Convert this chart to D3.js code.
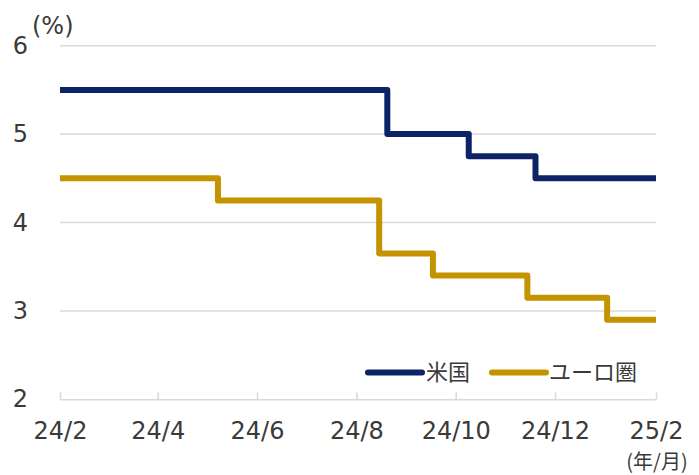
<!DOCTYPE html>
<html>
<head>
<meta charset="utf-8">
<script src="https://cdn.jsdelivr.net/npm/d3@7"></script>
<style>
  html, body { margin: 0; padding: 0; background: #fff; }
  svg { display: block; }
</style>
</head>
<body>
<svg id="chart" width="699" height="475"></svg>
<script>
// Policy rate change dates (step starts) and levels, %
const usDates   = ["2024-02-01", "2024-08-20", "2024-10-09", "2024-11-19", "2025-02-01"];
const usRates   = [5.5, 5.0, 4.75, 4.5, 4.5];
const euroDates = ["2024-02-01", "2024-05-08", "2024-08-15", "2024-09-17", "2024-11-14", "2025-01-02", "2025-02-01"];
const euroRates = [4.5, 4.25, 3.65, 3.40, 3.15, 2.90, 2.90];

const xTickDates  = ["2024-02-01", "2024-04-01", "2024-06-01", "2024-08-01", "2024-10-01", "2024-12-01", "2025-02-01"];
const yTickValues = [2, 3, 4, 5, 6];
const seriesNames = ["米国", "ユーロ圏"];
const seriesColors = ["#0c2466", "#c39300"];

const parse = d3.utcParse("%Y-%m-%d");
const svg = d3.select("#chart");

const x = d3.scaleUtc()
  .domain([parse(xTickDates[0]), parse(xTickDates[xTickDates.length - 1])])
  .range([60, 656]);
const y = d3.scaleLinear().domain([2, 6]).range([399.3, 45.7]);

const latin = "'DejaVu Sans', Verdana, sans-serif";
const cjk = "'Noto Sans CJK JP', 'Noto Sans CJK SC', sans-serif";
const textColor = "#3a3a3a";
const gridColor = "#d9d9d9";

// horizontal gridlines
svg.append("g")
  .selectAll("line")
  .data(yTickValues.filter(v => v > 2))
  .join("line")
  .attr("x1", x.range()[0]).attr("x2", x.range()[1])
  .attr("y1", d => y(d)).attr("y2", d => y(d))
  .attr("stroke", gridColor).attr("stroke-width", 1.5);

// y axis labels
const yAxis = d3.axisLeft(y).tickValues(yTickValues).tickSize(0).tickPadding(0).tickFormat(d3.format("d"));
const yg = svg.append("g").attr("transform", "translate(28,0)").call(yAxis);
yg.select(".domain").remove();
yg.selectAll("text")
  .attr("font-family", latin).attr("font-size", 24).attr("fill", textColor);

// x axis with upward ticks
const xAxis = d3.axisBottom(x)
  .tickValues(xTickDates.map(parse))
  .tickSizeInner(-7).tickSizeOuter(0)
  .tickPadding(23)
  .tickFormat(d3.utcFormat("%y/%-m"));
const xg = svg.append("g").attr("transform", `translate(0,${y(2)})`).call(xAxis);
xg.select(".domain").attr("stroke", gridColor).attr("stroke-width", 1.5);
xg.selectAll(".tick line").attr("stroke", gridColor).attr("stroke-width", 1.5);
xg.selectAll("text")
  .attr("font-family", latin).attr("font-size", 24).attr("fill", textColor);

// units
svg.append("text")
  .attr("x", 32).attr("y", 34)
  .attr("font-family", latin).attr("font-size", 24).attr("fill", textColor)
  .text("(%)");
svg.append("text")
  .attr("x", 657).attr("y", 469)
  .attr("text-anchor", "middle")
  .attr("font-family", cjk).attr("font-size", 20).attr("fill", textColor)
  .text("(年/月)");

// step lines
const line = d3.line()
  .x(d => x(d.date))
  .y(d => y(d.value))
  .curve(d3.curveStepAfter);

const series = [
  usDates.map((d, i) => ({ date: parse(d), value: usRates[i] })),
  euroDates.map((d, i) => ({ date: parse(d), value: euroRates[i] }))
];

svg.append("g")
  .selectAll("path")
  .data(series)
  .join("path")
  .attr("d", line)
  .attr("fill", "none")
  .attr("stroke", (d, i) => seriesColors[i])
  .attr("stroke-width", 6)
  .attr("stroke-linejoin", "round");

// legend
const legendItems = [
  { name: seriesNames[0], color: seriesColors[0], x0: 368, x1: 422, tx: 426 },
  { name: seriesNames[1], color: seriesColors[1], x0: 492, x1: 546, tx: 549 }
];
const lg = svg.append("g");
legendItems.forEach(it => {
  lg.append("line")
    .attr("x1", it.x0).attr("x2", it.x1)
    .attr("y1", 372.5).attr("y2", 372.5)
    .attr("stroke", it.color).attr("stroke-width", 6)
    .attr("stroke-linecap", "round");
  lg.append("text")
    .attr("x", it.tx).attr("y", 372.5)
    .attr("dy", "0.35em")
    .attr("font-family", cjk).attr("font-size", 22).attr("fill", textColor)
    .text(it.name);
});
</script>
</body>
</html>
